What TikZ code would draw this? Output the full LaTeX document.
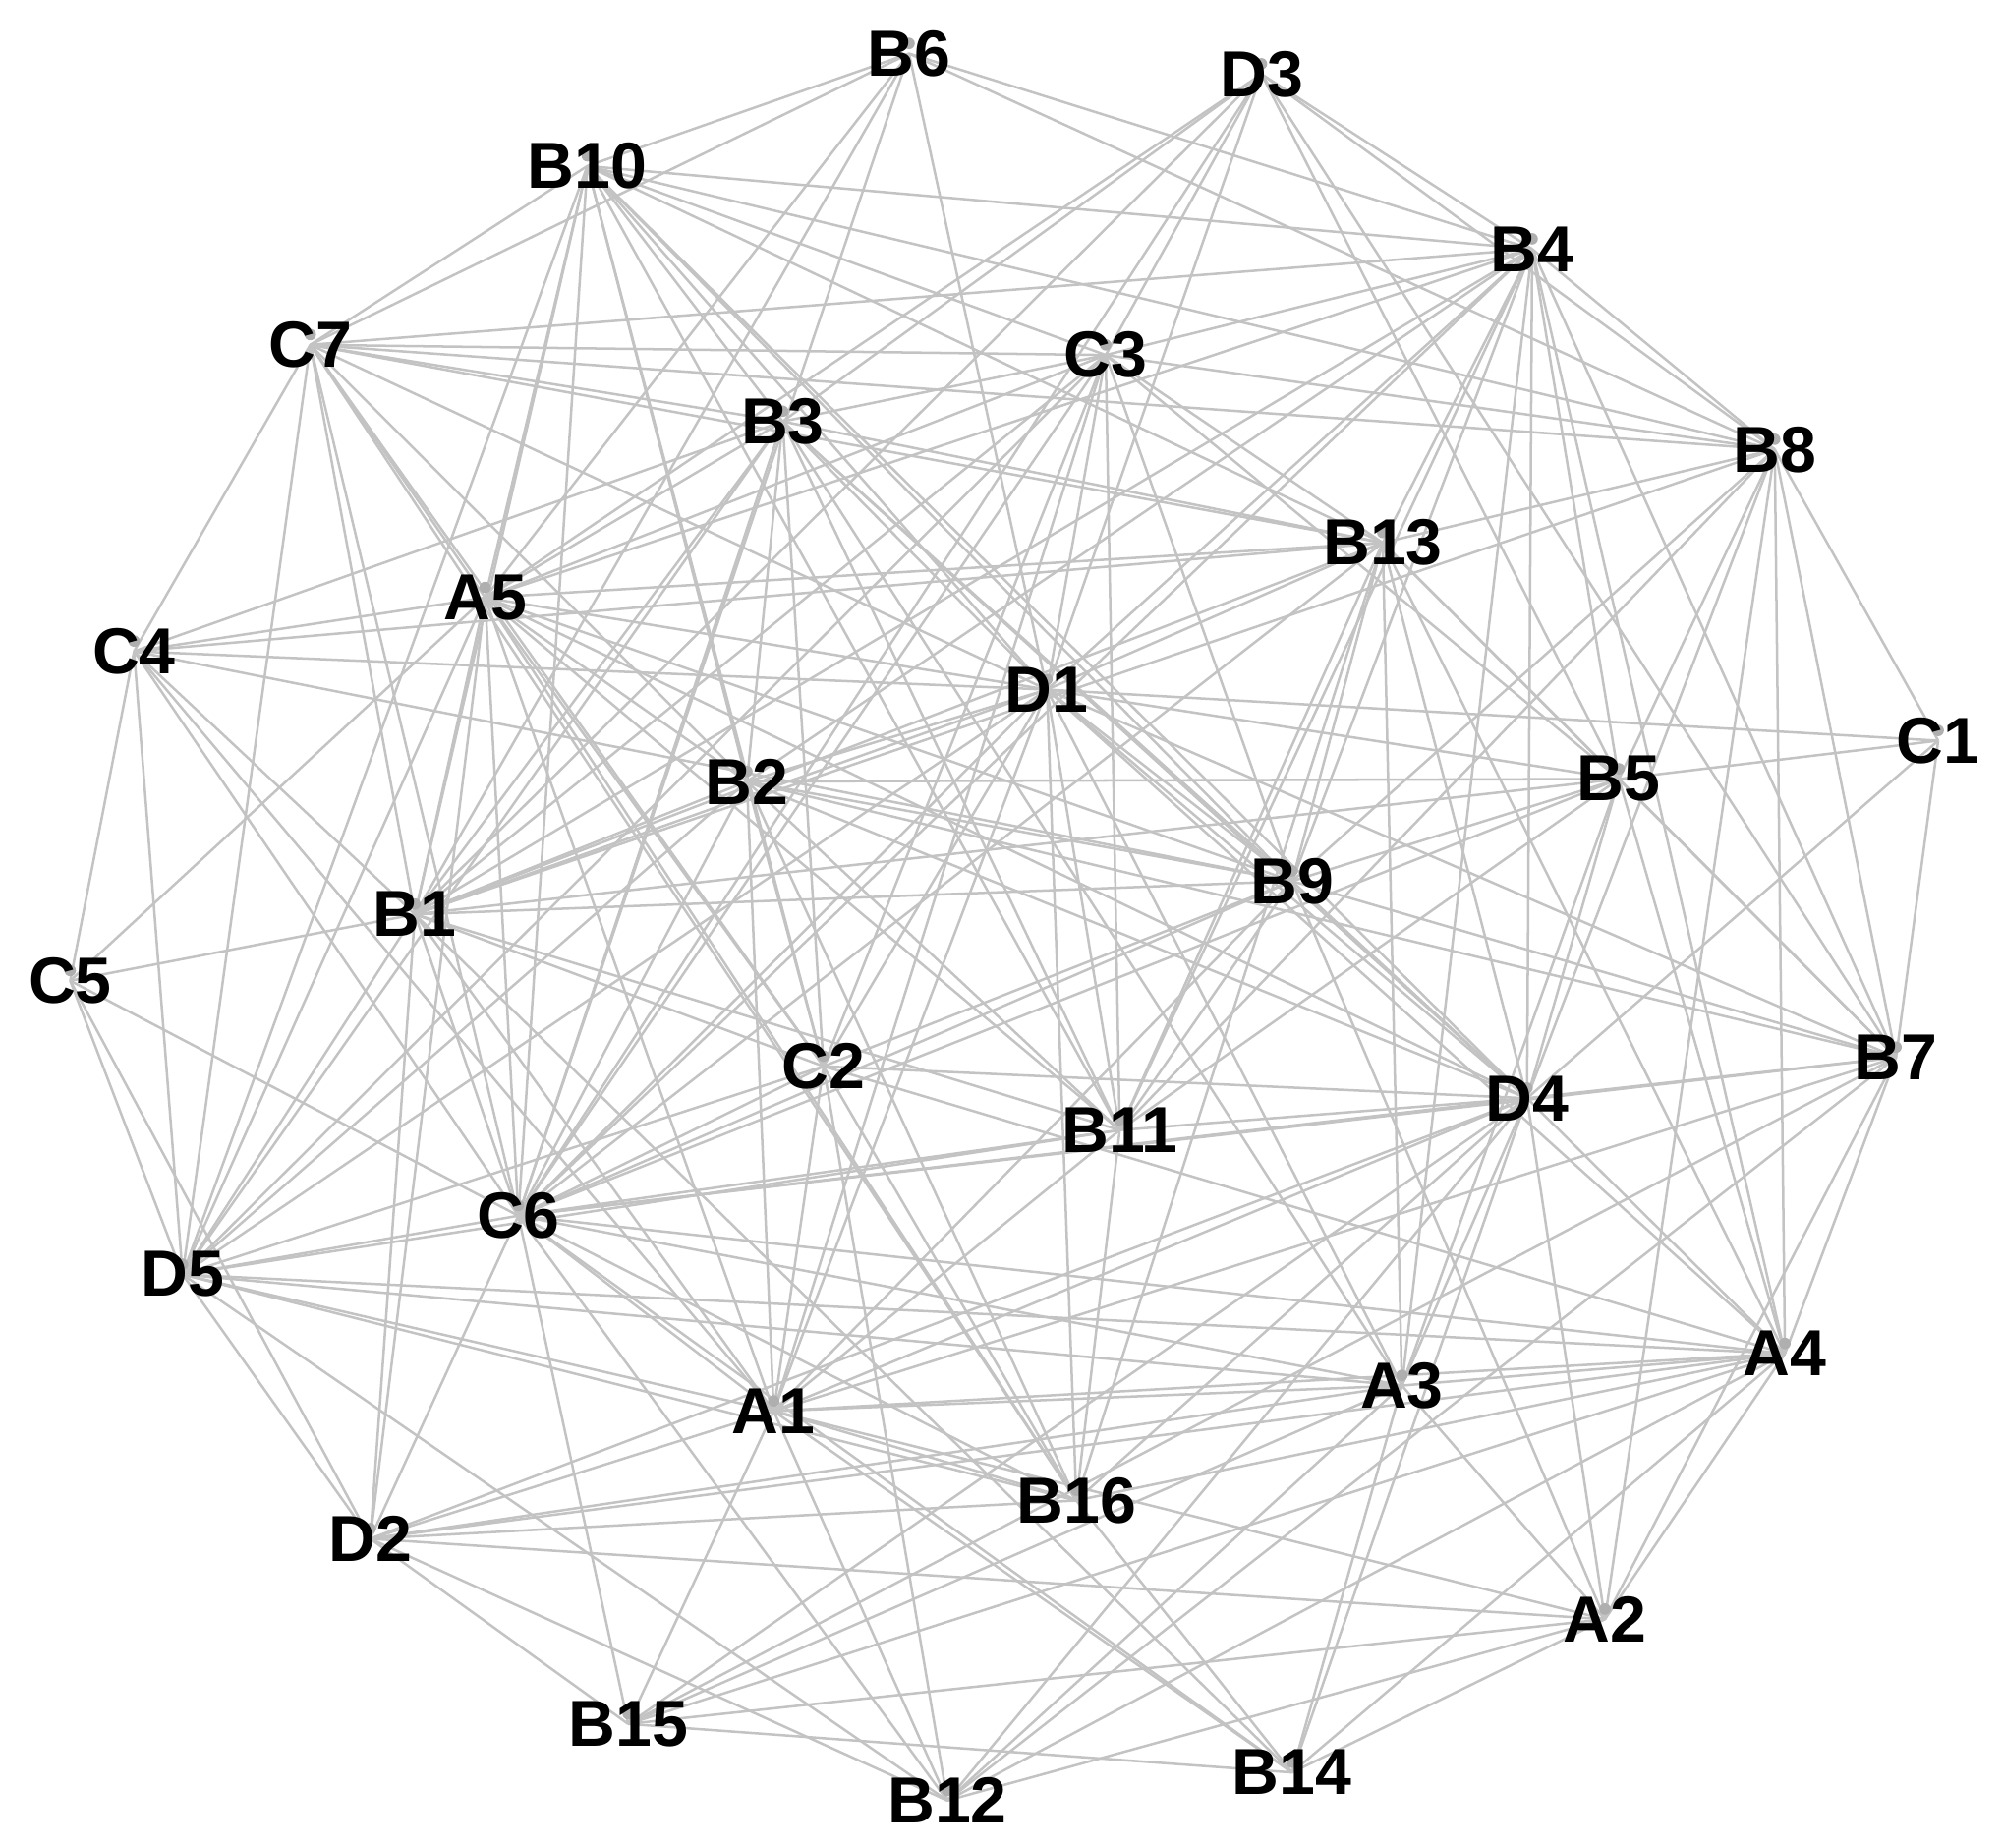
\documentclass[tikz,border=0pt]{standalone}
\usepackage{fontspec}
\setmainfont{Liberation Sans}
\usetikzlibrary{backgrounds}
\definecolor{edgegray}{RGB}{195,195,195}
\definecolor{dotgray}{RGB}{175,175,175}
\begin{document}
\begin{tikzpicture}[x=0.1mm,y=-0.1mm,
  lbl/.style={inner sep=0pt,font=\fontsize{14.5}{17}\selectfont\bfseries,text=black},
  edge/.style={draw=edgegray,line width=0.55pt}]
\useasboundingbox (0,0) rectangle (1568,1447);
\node[lbl] (B6)  at (712,42) {B6};
\node[lbl] (D3)  at (988,58) {D3};
\node[lbl] (B10) at (460,130) {B10};
\node[lbl] (B4)  at (1200,195) {B4};
\node[lbl] (C7)  at (243,270) {C7};
\node[lbl] (C3)  at (866,278) {C3};
\node[lbl] (B3)  at (613,330) {B3};
\node[lbl] (B8)  at (1390,352) {B8};
\node[lbl] (B13) at (1083,425) {B13};
\node[lbl] (A5)  at (380,468) {A5};
\node[lbl] (C4)  at (105,510) {C4};
\node[lbl] (D1)  at (820,540) {D1};
\node[lbl] (C1)  at (1518,580) {C1};
\node[lbl] (B2)  at (585,612) {B2};
\node[lbl] (B5)  at (1268,610) {B5};
\node[lbl] (B9)  at (1012,690) {B9};
\node[lbl] (B1)  at (325,716) {B1};
\node[lbl] (C5)  at (55,768) {C5};
\node[lbl] (C2)  at (645,835) {C2};
\node[lbl] (B7)  at (1485,828) {B7};
\node[lbl] (D4)  at (1196,860) {D4};
\node[lbl] (B11) at (877,885) {B11};
\node[lbl] (C6)  at (406,952) {C6};
\node[lbl] (D5)  at (143,998) {D5};
\node[lbl] (A4)  at (1398,1060) {A4};
\node[lbl] (A3)  at (1098,1085) {A3};
\node[lbl] (A1)  at (606,1105) {A1};
\node[lbl] (B16) at (843,1175) {B16};
\node[lbl] (D2)  at (290,1205) {D2};
\node[lbl] (A2)  at (1257,1268) {A2};
\node[lbl] (B15) at (492,1350) {B15};
\node[lbl] (B14) at (1012,1388) {B14};
\node[lbl] (B12) at (742,1410) {B12};
\begin{scope}[on background layer]
\foreach \a/\b in {
 B6/B10,B6/C7,B6/B4,B6/B8,B6/D1,B6/A5,B6/C6,B6/B1,
 D3/B4,D3/B8,D3/B7,D3/D1,D3/A5,D3/B1,D3/C6,D3/B3,D3/C3,D3/B5,
 B10/C7,B10/B4,B10/B8,B10/C3,B10/B13,B10/D1,B10/B9,B10/D4,B10/B3,B10/A5,B10/B1,B10/C6,B10/D5,B10/B2,B10/B11,B10/C2,
 C7/B4,C7/C3,C7/B3,C7/B13,C7/B8,C7/D1,C7/B2,C7/A5,C7/C2,C7/B1,C7/C6,C7/D5,C7/C4,C7/B16,
 B4/C3,B4/B8,B4/B13,B4/D1,B4/B1,B4/A5,B4/B2,B4/B9,B4/D4,B4/B5,B4/B7,B4/A4,B4/A3,B4/C6,B4/B11,
 C3/B8,C3/B13,C3/B3,C3/D1,C3/A5,C3/B1,C3/C6,C3/C2,C3/A1,C3/B11,C3/B9,C3/B5,C3/D5,
 B3/B13,B3/D1,B3/A5,B3/B1,B3/C6,B3/C2,B3/B2,B3/B9,B3/D4,B3/B11,B3/A3,B3/C4,B3/D5,
 B8/B13,B8/B5,B8/C1,B8/B7,B8/A4,B8/A2,B8/D4,B8/B9,B8/B11,B8/B1,
 B13/A5,B13/C4,B13/D1,B13/B5,B13/B9,B13/D4,B13/A3,B13/B16,B13/C6,B13/B11,B13/A4,B13/B1,B13/B7,
 A5/C4,A5/C5,A5/D1,A5/B2,A5/B9,A5/D4,A5/C2,A5/A1,A5/B16,A5/C6,A5/B1,A5/D5,A5/D2,A5/B11,
 C4/D1,C4/C5,C4/D5,C4/B1,C4/C6,C4/B9,C4/A1,
 D1/C1,D1/B5,D1/B9,D1/D4,D1/B2,D1/B1,D1/C2,D1/A1,D1/C6,D1/B11,D1/B16,D1/A3,D1/B7,D1/D5,D1/A4,
 C1/B5,C1/B7,C1/D4,
 B2/B1,B2/B9,B2/D4,B2/C2,B2/A1,B2/C6,B2/D5,B2/B11,B2/B16,B2/B7,B2/B5,
 B5/B9,B5/D4,B5/B7,B5/A4,B5/A3,B5/B11,B5/C6,B5/B1,
 B9/D4,B9/B1,B9/C6,B9/C2,B9/B11,B9/A1,B9/B7,B9/A2,
 B1/C5,B1/C2,B1/C6,B1/D5,B1/D2,B1/A1,B1/B11,B1/B14,
 C5/D5,C5/D2,C5/C6,
 C2/C6,C2/D5,C2/B16,C2/A4,C2/D4,C2/A1,C2/B12,
 B7/D4,B7/A4,B7/A2,B7/B12,B7/B15,B7/A1,B7/C6,
 D4/B11,D4/C6,D4/A4,D4/A3,D4/B16,D4/A1,D4/D2,D4/B15,D4/B12,D4/B14,D4/A2,
 B11/C6,B11/D5,B11/A1,B11/B16,
 C6/D5,C6/D2,C6/A1,C6/A3,C6/A4,C6/B16,C6/B12,C6/B15,C6/B14,
 D5/D2,D5/A1,D5/A3,D5/A4,D5/B16,D5/B12,
 A4/A3,A4/A1,A4/D2,A4/B15,A4/A2,A4/B12,A4/B16,A4/B14,
 A3/A1,A3/D2,A3/B15,A3/B14,A3/B12,A3/A2,
 A1/B16,A1/D2,A1/B15,A1/B12,A1/B14,A1/A2,
 B16/D2,B16/B14,
 D2/B15,D2/A2,D2/B12,
 A2/B15,A2/B12,A2/B14,
 B15/B14}
 \draw[edge] (\a.center) -- (\b.center);
\foreach \n in {B6,D3,B10,B4,C7,C3,B3,B8,B13,A5,C4,D1,C1,B2,B5,B9,B1,C5,C2,B7,D4,B11,C6,D5,A4,A3,A1,B16,D2,A2,B15,B14,B12}
 \fill[dotgray] ([yshift=0.8mm]\n.center) circle (0.45mm);
\end{scope}
\end{tikzpicture}
\end{document}
